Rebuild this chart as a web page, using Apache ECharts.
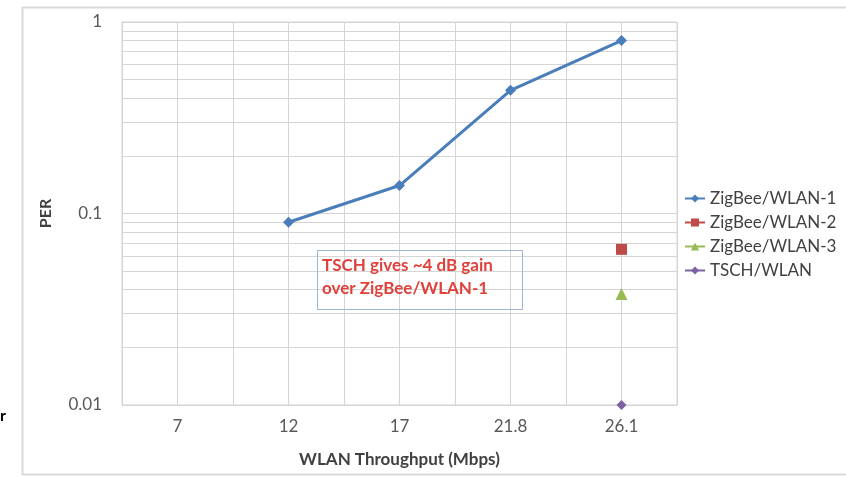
<!DOCTYPE html>
<html>
<head>
<meta charset="utf-8">
<script src="https://cdn.jsdelivr.net/npm/echarts@6/dist/echarts.min.js"></script>
<style>html,body{margin:0;padding:0;background:#fff}#c{width:846px;height:477px}</style>
</head>
<body>
<div id="c"></div>
<script>
const categories = ['7', '12', '17', '21.8', '26.1'];
const zigbee1 = [null, 0.09, 0.14, 0.44, 0.8];
const zigbee2 = [null, null, null, null, 0.065];
const zigbee3 = [null, null, null, null, 0.038];
const tsch = [null, null, null, null, 0.01];
const seriesNames = ['ZigBee/WLAN-1', 'ZigBee/WLAN-2', 'ZigBee/WLAN-3', 'TSCH/WLAN'];
const minorGrid = [0.02, 0.03, 0.04, 0.05, 0.06, 0.07, 0.08, 0.09, 0.2, 0.3, 0.4, 0.5, 0.6, 0.7, 0.8, 0.9];
const halfBands = ['a','b','c','d','e','f','g','h','i','j'];

const FONT = 'Lato, "Open Sans", sans-serif';
const GRID = '#d4d4d4';
const chart = echarts.init(document.getElementById('c'), null, {renderer: 'canvas'});
chart.setOption({
  animation: false,
  backgroundColor: '#fff',
  textStyle: {fontFamily: FONT},
  grid: {left: 122, right: 169, top: 22, bottom: 72, show: true, borderColor: GRID, borderWidth: 1},
  legend: {
    data: seriesNames, orient: 'vertical', left: 684, top: 190, itemGap: 7,
    itemWidth: 20, itemHeight: 10, padding: 0,
    textStyle: {fontFamily: FONT, fontSize: 17, color: '#404040'}
  },
  xAxis: [{
    type: 'category', data: categories, boundaryGap: true,
    axisLine: {lineStyle: {color: GRID}}, axisTick: {show: false},
    axisLabel: {color: '#595959', fontSize: 17, margin: 13},
    splitLine: {show: true, lineStyle: {color: GRID}},
    name: 'WLAN Throughput (Mbps)', nameLocation: 'middle', nameGap: 46,
    nameTextStyle: {fontWeight: 'bold', fontSize: 17, color: '#404040'}
  }, {
    type: 'category', data: halfBands, boundaryGap: true, position: 'bottom',
    axisLine: {show: false}, axisTick: {show: false}, axisLabel: {show: false},
    splitLine: {show: true, lineStyle: {color: GRID}}
  }],
  yAxis: {
    type: 'log', logBase: 10, min: 0.01, max: 1,
    axisLine: {show: true, lineStyle: {color: GRID}}, axisTick: {show: false},
    axisLabel: {color: '#595959', fontSize: 17, margin: 20},
    splitLine: {show: true, lineStyle: {color: GRID}},
    name: 'PER', nameLocation: 'middle', nameGap: 68, nameRotate: 90,
    nameTextStyle: {fontWeight: 'bold', fontSize: 16, color: '#404040'}
  },
  series: [
    {name: 'grid', type: 'line', data: [], z: 1, silent: true,
     markLine: {silent: true, symbol: 'none', label: {show: false},
       lineStyle: {color: GRID, type: 'solid', width: 1},
       data: minorGrid.map(v => ({yAxis: v}))}},
    {name: seriesNames[0], type: 'line', data: zigbee1, symbol: 'diamond', symbolSize: 11,
     lineStyle: {color: '#4a7ebb', width: 3}, itemStyle: {color: '#4a7ebb'}, z: 5},
    {name: seriesNames[1], type: 'line', data: zigbee2, symbol: 'rect', symbolSize: 11,
     lineStyle: {color: '#be4b48', width: 2}, itemStyle: {color: '#be4b48'}, z: 5},
    {name: seriesNames[2], type: 'line', data: zigbee3, symbol: 'triangle', symbolSize: 12,
     lineStyle: {color: '#98b954', width: 2}, itemStyle: {color: '#98b954'}, z: 5},
    {name: seriesNames[3], type: 'line', data: tsch, symbol: 'diamond', symbolSize: 10,
     lineStyle: {color: '#7d60a0', width: 2}, itemStyle: {color: '#7d60a0'}, z: 5}
  ],
  graphic: [
    {type: 'rect', left: 20, top: 5, shape: {width: 840, height: 467},
     style: {fill: 'none', stroke: '#d9d9d9', lineWidth: 2}, silent: true},
    {type: 'rect', left: 315, top: 248, shape: {width: 205, height: 59},
     style: {fill: 'none', stroke: '#9fb6cf', lineWidth: 1}, z: 10},
    {type: 'text', left: 322, top: 254, z: 11,
     style: {text: 'TSCH gives ~4 dB gain\nover ZigBee/WLAN-1', fill: '#e0413a',
       font: 'bold 17px ' + FONT, lineHeight: 23}},
    {type: 'text', left: 0, top: 408, style: {text: 'r', fill: '#000', font: 'bold 16px ' + FONT}}
  ]
});
</script>
</body>
</html>
